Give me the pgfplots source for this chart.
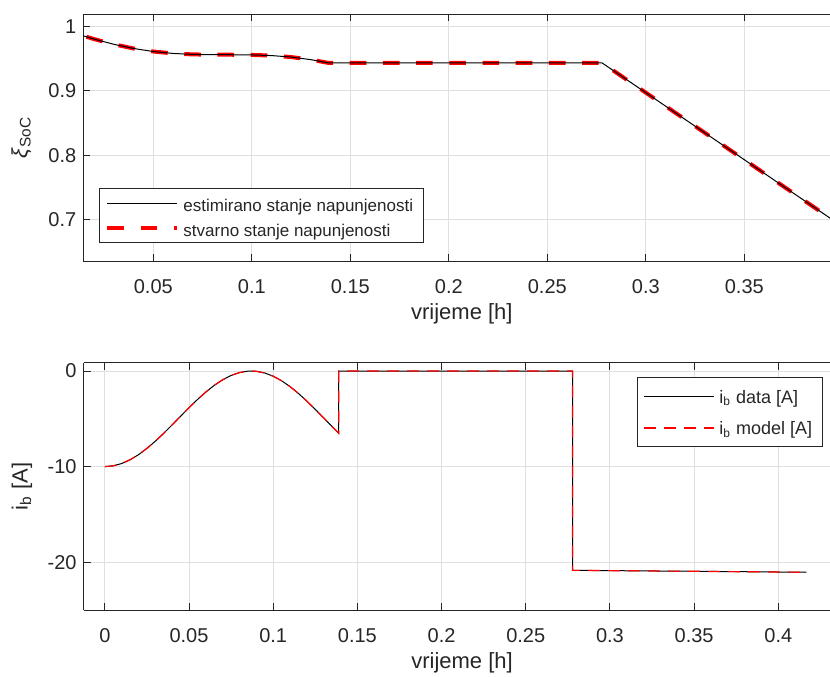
\documentclass[border=0pt]{standalone}
\usepackage{fontspec}
\setmainfont{Liberation Sans}
\usepackage{pgfplots}
\pgfplotsset{compat=1.18}
\definecolor{axgray}{RGB}{38,38,38}
\definecolor{gridgray}{RGB}{223,223,223}

% MATLAB-like look
\pgfplotsset{mlab/.style={
  scale only axis,
  axis y line*=left,
  axis line style={axgray, line width=0.5pt},
  every tick/.style={axgray, line width=0.5pt},
  major tick length=3.5pt,
  tick align=inside,
  grid=major,
  major grid style={gridgray, line width=0.5pt},
  tick label style={font=\fontsize{10}{12}\selectfont, text=axgray},
  xticklabel style={yshift=-5.9pt},
  label style={font=\fontsize{11}{13}\selectfont, text=axgray},
  xlabel style={at={(axis description cs:0.507,-0.235)}, anchor=base},
  ylabel style={at={(axis description cs:-0.075,0.5)}, anchor=base},
  legend cell align=left,
  legend style={draw=axgray, fill=white, line width=0.5pt,
    inner xsep=3pt, inner ysep=1.5pt},
  legend image code/.code={\draw[#1] (0pt,0pt) -- (35pt,0pt);},
}}

\begin{document}
\begin{tikzpicture}
\path[use as bounding box] (0pt,0pt) rectangle (415pt,-338pt);

% top: state of charge
\begin{axis}[mlab,
  at={(41.65pt,-7pt)}, anchor=north west,
  width=373.35pt, height=123.5pt,
  xmin=0.01447, xmax=0.3935, ymin=0.635, ymax=1.02,
  xtick={0.05,0.1,0.15,0.2,0.25,0.3,0.35},
  xticklabels={0.05,0.1,0.15,0.2,0.25,0.3,0.35},
  ytick={0.7,0.8,0.9,1},
  yticklabels={0.7,0.8,0.9,1},
  xlabel={vrijeme [h]},
  ylabel={\textit{ξ}\textsubscript{SoC}},
  reverse legend,
  legend style={at={(0.021,0.0713)}, anchor=south west,
    font=\fontsize{8.5}{10}\selectfont, row sep=1pt,
    nodes={text=axgray, text height=9.25pt, text depth=1.25pt, inner ysep=0.5pt, inner xsep=2pt}},
]
\addplot[draw=red, line width=2pt, dash pattern=on 8.3pt off 8.3pt] coordinates {
(0,1.0) (0.01,0.99011) (0.02,0.98085) (0.03,0.97277) (0.04,0.96626)
(0.05,0.96154) (0.06,0.95855) (0.07,0.95703) (0.08,0.95655) (0.09,0.95650)
(0.10,0.95624) (0.11,0.95521) (0.12,0.95287) (0.13,0.94884) (0.1389,0.94377)
(0.2,0.94377) (0.2778,0.94377) (0.30,0.8974) (0.35,0.7929) (0.40,0.6883) (0.4167,0.6533)};
\addlegendentry{stvarno stanje napunjenosti}
\addplot[draw=black, line width=0.5pt] coordinates {
(0,1.0) (0.01,0.99011) (0.02,0.98085) (0.03,0.97277) (0.04,0.96626)
(0.05,0.96154) (0.06,0.95855) (0.07,0.95703) (0.08,0.95655) (0.09,0.95650)
(0.10,0.95624) (0.11,0.95521) (0.12,0.95287) (0.13,0.94884) (0.1389,0.94377)
(0.2,0.94377) (0.2778,0.94377) (0.30,0.8974) (0.35,0.7929) (0.40,0.6883) (0.4167,0.6533)};
\addlegendentry{estimirano stanje napunjenosti}
\end{axis}

% bottom: battery current
\begin{axis}[mlab,
  at={(41.8pt,-181.35pt)}, anchor=north west,
  width=373.2pt, height=123.65pt,
  xmin=-0.0126, xmax=0.4307, ymin=-25, ymax=0.87,
  xtick={0,0.05,0.1,0.15,0.2,0.25,0.3,0.35,0.4},
  xticklabels={0,0.05,0.1,0.15,0.2,0.25,0.3,0.35,0.4},
  ytick={-20,-10,0},
  yticklabels={-20,-10,0},
  xlabel={vrijeme [h]},
  ylabel={i\textsubscript{b} [A]},
  legend style={at={(0.990,0.943)}, anchor=north east,
    font=\fontsize{9}{11}\selectfont, row sep=0pt,
    nodes={text=axgray, text height=9.5pt, text depth=2.3pt, inner ysep=2pt, inner xsep=2pt}},
]
\addplot[draw=black, line width=0.5pt] coordinates {
(0,-10) (0.005,-9.919) (0.01,-9.677) (0.015,-9.284) (0.02,-8.752) (0.025,-8.097)
(0.03,-7.344) (0.035,-6.512) (0.04,-5.630) (0.045,-4.729) (0.05,-3.838)
(0.055,-2.984) (0.06,-2.196) (0.065,-1.497) (0.07,-0.913) (0.075,-0.462)
(0.08,-0.159) (0.085,-0.013) (0.087,0) (0.09,-0.029) (0.095,-0.207) (0.10,-0.541)
(0.105,-1.020) (0.11,-1.627) (0.115,-2.346) (0.12,-3.149) (0.125,-4.013)
(0.13,-4.910) (0.135,-5.809) (0.1389,-6.507) (0.1389,0) (0.2778,0)
(0.2778,-20.85) (0.35,-20.95) (0.4167,-21.05)};
\addlegendentry{i\textsubscript{b} data [A]}
\addplot[draw=red, line width=0.6pt, dash pattern=on 6pt off 4pt, forget plot] coordinates {
(0,-10) (0.005,-9.919) (0.01,-9.677) (0.015,-9.284) (0.02,-8.752) (0.025,-8.097)
(0.03,-7.344) (0.035,-6.512) (0.04,-5.630) (0.045,-4.729) (0.05,-3.838)
(0.055,-2.984) (0.06,-2.196) (0.065,-1.497) (0.07,-0.913) (0.075,-0.462)
(0.08,-0.159) (0.085,-0.013) (0.087,0) (0.09,-0.029) (0.095,-0.207) (0.10,-0.541)
(0.105,-1.020) (0.11,-1.627) (0.115,-2.346) (0.12,-3.149) (0.125,-4.013)
(0.13,-4.910) (0.135,-5.809) (0.1389,-6.507) (0.1389,0) (0.2778,0)
(0.2778,-20.85) (0.35,-20.95) (0.4167,-21.05)};
\addlegendimage{draw=red, line width=0.9pt, dash pattern=on 6pt off 4pt}
\addlegendentry{i\textsubscript{b} model [A]}
\end{axis}
\end{tikzpicture}
\end{document}
